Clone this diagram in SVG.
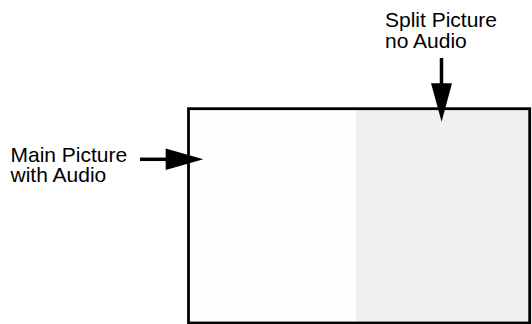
<svg xmlns="http://www.w3.org/2000/svg" width="532" height="324" viewBox="0 0 532 324">
<style>
.lbl{font-family:"Liberation Sans",Arial,sans-serif;font-size:21px;fill:#000}
.ln{stroke:#000;stroke-width:3.5;fill:none}
.ah{fill:#000;stroke:none}
</style>
<rect width="532" height="324" fill="#fff"/>
<g id="screen">
<rect x="188.5" y="108.7" width="341.2" height="214.3" fill="#fefefe"/>
<rect x="356" y="108.7" width="173.7" height="214.3" fill="#f0f0f0"/>
<rect x="188.5" y="108.7" width="341.2" height="214.3" fill="none" stroke="#000" stroke-width="2.8"/>
</g>
<g id="main-label">
<text class="lbl" x="10.5" y="161.5">Main Picture</text>
<text class="lbl" x="10.5" y="182.3">with Audio</text>
</g>
<g id="split-label">
<text class="lbl" x="385" y="26.7">Split Picture</text>
<text class="lbl" x="385" y="47.7">no Audio</text>
</g>
<g id="connectors">
<line class="ln" x1="140" y1="159.3" x2="168" y2="159.3"/>
<polygon class="ah" points="165.7,148.5 203.3,159.3 165.7,170"/>
<line class="ln" x1="441.5" y1="58" x2="441.5" y2="85"/>
<polygon class="ah" points="431,83.3 452,83.3 441.6,121.7"/>
</g>
</svg>
